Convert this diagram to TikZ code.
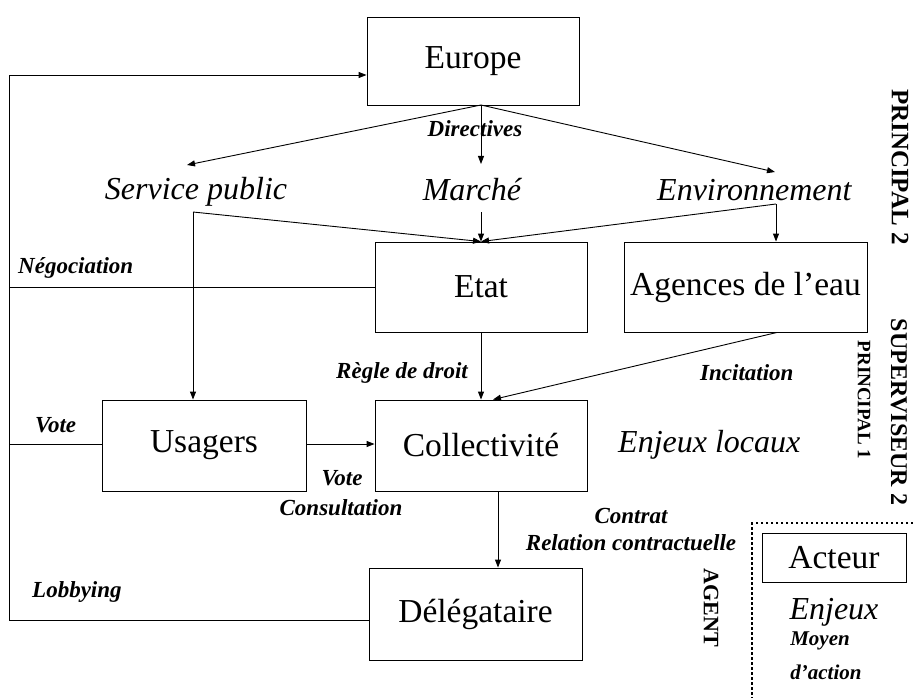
\documentclass[tikz,border=0pt]{standalone}
\usepackage{fontspec}
\setmainfont{Liberation Serif}
\usetikzlibrary{arrows.meta}
\begin{document}
\begin{tikzpicture}[x=1pt,y=-1pt,
  box/.style={draw,line width=0.9pt,inner sep=0pt,font=\fontsize{33.5}{38}\selectfont},
  big/.style={font=\fontsize{32}{36}\selectfont\itshape,inner sep=0pt},
  lab/.style={font=\fontsize{23}{26}\selectfont\bfseries\itshape,inner sep=0pt},
  vert/.style={rotate=-90,inner sep=0pt},
  conn/.style={line width=0.9pt},
  arr/.style={conn,-{Triangle[length=8pt,width=6pt]}},
  dots/.style={line width=2.5pt,dash pattern=on 2.5pt off 2.5pt}]
\useasboundingbox (0,0) rectangle (913,698);

% boxes
\node[box,minimum width=212pt,minimum height=88pt] (eu) at (473,61) {Europe};
\node[box,minimum width=212pt,minimum height=90pt] (et) at (481,287) {Etat};
\node[box,minimum width=243pt,minimum height=90pt] (ag) at (745.5,287) {Agences de l’eau};
\node[box,minimum width=204pt,minimum height=91pt] (us) at (204,445.5) {Usagers};
\node[box,minimum width=212pt,minimum height=91pt] (co) at (481,445.5) {Collectivité};
\node[box,minimum width=213pt,minimum height=92pt] (dl) at (475.5,614) {Délégataire};
\node[box,minimum width=144pt,minimum height=49pt] (ac) at (834,557.5) {Acteur};

% italic texts
\node[big] (sp) at (196,192) {Service public};
\node[big] (ma) at (472,190) {Marché};
\node[big,anchor=west] (en) at (657,190) {Environnement};
\node[big,anchor=west] (el) at (618,445) {Enjeux locaux};
\node[big] (ej) at (834,612) {Enjeux};

% bold italic labels
\node[lab] (dir) at (475,129) {Directives};
\node[lab,anchor=west] (neg) at (18,268) {Négociation};
\node[lab,anchor=east] (rdd) at (468,373) {Règle de droit};
\node[lab,anchor=west] (inc) at (700,373) {Incitation};
\node[lab,anchor=west] (vo1) at (35,425) {Vote};
\node[lab] (vo2) at (342,478) {Vote};
\node[lab] (cons) at (341,508) {Consultation};
\node[lab] (ctr) at (631,516) {Contrat};
\node[lab] (rel) at (631,543) {Relation contractuelle};
\node[lab,anchor=west] (lob) at (32,592) {Lobbying};
\node[lab,font=\fontsize{21}{24}\selectfont\bfseries\itshape] (moy) at (820,641) {Moyen};
\node[lab,font=\fontsize{21}{24}\selectfont\bfseries\itshape] (dac) at (826,672) {d’action};

% vertical labels
\node[vert,font=\fontsize{25}{28}\selectfont\bfseries] (p2) at (900,167) {PRINCIPAL 2};
\node[vert,font=\fontsize{24}{28}\selectfont\bfseries] (s2) at (899,412) {SUPERVISEUR 2};
\node[vert,font=\fontsize{19}{22}\selectfont\bfseries] (p1) at (864,400) {PRINCIPAL 1};
\node[vert,font=\fontsize{22}{26}\selectfont\bfseries] (agt) at (711,608) {AGENT};

% coordinates
\coordinate (cB) at (9,620);
\coordinate (cT) at (9,75);
\coordinate (eub) at (481,105);
\coordinate (spa) at (187,165);
\coordinate (maa) at (481,164);
\coordinate (ena) at (775,172);
\coordinate (sp1) at (193,212);
\coordinate (ma1) at (481,212);
\coordinate (en1) at (776,204);
\coordinate (lg1) at (913,523);
\coordinate (lg2) at (752,523);
\coordinate (lg3) at (752,698);

% connectors
\draw[arr] ([yshift=-6pt]dl.west) -- (cB) -- (cT) -- ([yshift=-14pt]eu.west);
\draw[conn] (et.west) -- (et.west -| cT);
\draw[conn] ([yshift=1.5pt]us.west) -- ([yshift=1.5pt]us.west -| cT);
\draw[arr] (eub) -- (spa);
\draw[arr] (eub) -- (maa);
\draw[arr] (eub) -- (ena);
\draw[arr] (sp1) -- (et.north);
\draw[arr] (sp1) -- (sp1 |- us.north);
\draw[arr] (ma1) -- (et.north);
\draw[arr] (en1) -- (et.north);
\draw[arr] (en1) -- (en1 |- ag.north);
\draw[arr] (et.south) -- (co.north);
\draw[arr] ([xshift=31.5pt]ag.south) -- ([xshift=12pt]co.north);
\draw[arr] ([yshift=1.5pt]us.east) -- ([yshift=1.5pt]co.west);
\draw[arr] ([xshift=17pt]co.south) -- ([xshift=17pt]co.south |- dl.north);
\draw[dots] (lg1) -- (lg2) -- (lg3);
\end{tikzpicture}
\end{document}
